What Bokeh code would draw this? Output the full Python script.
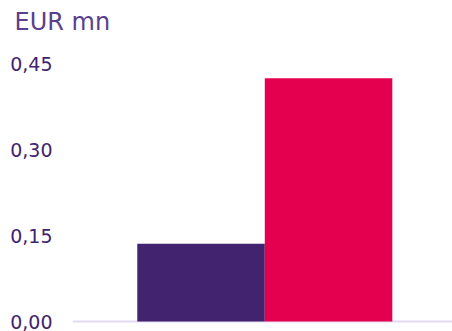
from bokeh.plotting import figure
from bokeh.models import Range1d, FixedTicker, Span, Title, ColumnDataSource
from bokeh.embed import file_html
from bokeh.resources import INLINE

# Data
categories = ["Previous period", "Current period"]
values = [0.136, 0.426]
bar_colors = ["#41236F", "#E4004F"]
tick_values = [0.0, 0.15, 0.30, 0.45]
tick_labels = ["0,00", "0,15", "0,30", "0,45"]
unit_label = "EUR mn"

FONT = "DejaVu Sans"

p = figure(width=452, height=331, output_backend="svg", toolbar_location=None,
           x_range=Range1d(-1.008, 1.972), y_range=Range1d(-0.0174, 0.4901),
           x_axis_location=None, y_axis_location="left",
           min_border_left=72, min_border_right=0, min_border_top=40,
           min_border_bottom=0, outline_line_color=None, background_fill_color="white",
           border_fill_color="white")
p.grid.visible = False

src = ColumnDataSource(dict(x=list(range(len(categories))), top=values,
                            color=bar_colors, cat=categories))

base = Span(location=0, dimension="width", line_color="#E3DAF3", line_width=2, level="underlay")
p.add_layout(base)

p.vbar(x="x", top="top", bottom=0, width=1.0, color="color", source=src, line_color=None)

ax = p.yaxis[0]
ax.ticker = FixedTicker(ticks=tick_values)
ax.major_label_overrides = {v: l for v, l in zip(tick_values, tick_labels)}
ax.axis_line_color = None
ax.major_tick_line_color = None
ax.minor_tick_line_color = None
ax.major_tick_out = 0
ax.major_tick_in = 0
ax.major_label_standoff = 20
ax.major_label_text_font = FONT
ax.major_label_text_font_size = "19px"
ax.major_label_text_color = "#41236F"

t = Title(text=unit_label, align="left", offset=-58, standoff=11,
          text_font=FONT, text_font_size="24px", text_color="#5A3F8E",
          text_font_style="normal", vertical_align="bottom")
p.add_layout(t, "above")

open("out.html", "w").write(file_html(p, INLINE))
